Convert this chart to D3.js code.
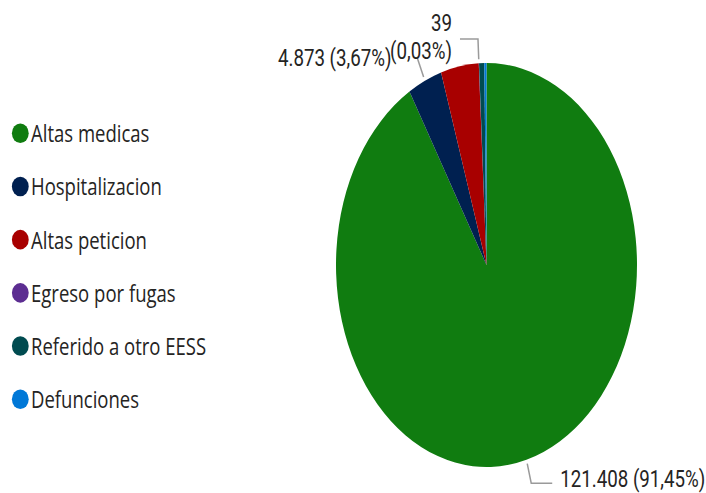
<!DOCTYPE html>
<html>
<head>
<meta charset="utf-8">
<script src="https://cdn.jsdelivr.net/npm/d3@7"></script>
<style>
  html, body { margin: 0; padding: 0; background: #ffffff; }
  svg { display: block; }
</style>
</head>
<body>
<svg id="chart" width="706" height="493"></svg>
<script>
// ---- data ----
const categories = ["Altas medicas", "Hospitalizacion", "Altas peticion", "Egreso por fugas", "Referido a otro EESS", "Defunciones"];
const values = [121408, 4873, 5390, 39, 740, 309];
const colors = ["#107C10", "#002050", "#A80000", "#5C2D91", "#004B50", "#0078D7"];
const labelledCategories = ["Altas medicas", "Hospitalizacion", "Egreso por fugas"];

// ---- layout / style ----
const W = 706, H = 493;
const cx = 486.5, cy = 265, rx = 150.5, ry = 202;
const sxLegend = 0.772;         // horizontal compression of legend text
const sxLabel = 0.78;           // horizontal compression of data labels
const leaderColor = "#9a9a9a";
const textColor = "#252423";

const loc = d3.formatLocale({ decimal: ",", thousands: ".", grouping: [3], currency: ["", ""] });
const fmtNum = loc.format(",d");
const fmtPct = loc.format(".2%");

const svg = d3.select("#chart");
const total = d3.sum(values);
const data = categories.map((c, i) => ({ name: c, value: values[i], color: colors[i] }));

// ---- pie ----
const pie = d3.pie().value(d => d.value).sort(null);
const arcs = pie(data);
const arc = d3.arc().innerRadius(0).outerRadius(ry);

svg.append("g")
  .attr("transform", `translate(${cx},${cy}) scale(${rx / ry},1)`)
  .selectAll("path")
  .data(arcs)
  .join("path")
  .attr("d", arc)
  .attr("fill", d => d.data.color);

// ---- legend ----
const legendY = d3.scalePoint().domain(categories).range([133.3, 399.2]);
const lg = svg.append("g");
categories.forEach((c, i) => {
  const y = legendY(c);
  lg.append("ellipse")
    .attr("cx", 20.3).attr("cy", y).attr("rx", 8.4).attr("ry", 9.8)
    .attr("fill", colors[i]);
  lg.append("text")
    .attr("transform", `translate(31,${y + 9}) scale(${sxLegend},1)`)
    .attr("font-family", "'Open Sans', 'Noto Sans', sans-serif")
    .attr("font-size", 24)
    .attr("fill", textColor)
    .text(c);
});

// ---- data labels ----
const pt = (a, k) => [cx + rx * k * Math.sin(a), cy - ry * k * Math.cos(a)];
const labelStyle = {
  "Altas medicas":    { hor: 21,  anchor: "start", dx: 8,   dy: 4,  twoLines: false },
  "Hospitalizacion":  { hor: 0,   anchor: "end",   dx: -26, dy: 7,  twoLines: false },
  "Egreso por fugas": { hor: -18, anchor: "end",   dx: -8,  dy: -8, twoLines: true, lineGap: 28 }
};
const lab = svg.append("g");
arcs.filter(d => labelledCategories.includes(d.data.name)).forEach(d => {
  const st = labelStyle[d.data.name];
  const a = (d.startAngle + d.endAngle) / 2;
  const p1 = pt(a, 1.02), p2 = pt(a, 1.12);
  const p3 = [p2[0] + st.hor, p2[1]];
  lab.append("path")
    .attr("d", d3.line()([p1, p2, p3]))
    .attr("fill", "none")
    .attr("stroke", leaderColor)
    .attr("stroke-width", 1.5);
  const num = fmtNum(d.data.value);
  const pct = "(" + fmtPct(d.data.value / total) + ")";
  const lines = st.twoLines ? [num, pct] : [num + " " + pct];
  lines.forEach((t, j) => {
    lab.append("text")
      .attr("transform", `translate(${p3[0] + st.dx},${p3[1] + st.dy + j * (st.lineGap || 0)}) scale(${sxLabel},1)`)
      .attr("text-anchor", st.anchor)
      .attr("font-family", "Roboto, 'DejaVu Sans', sans-serif")
      .attr("font-size", 24)
      .attr("fill", textColor)
      .text(t);
  });
});
</script>
</body>
</html>
